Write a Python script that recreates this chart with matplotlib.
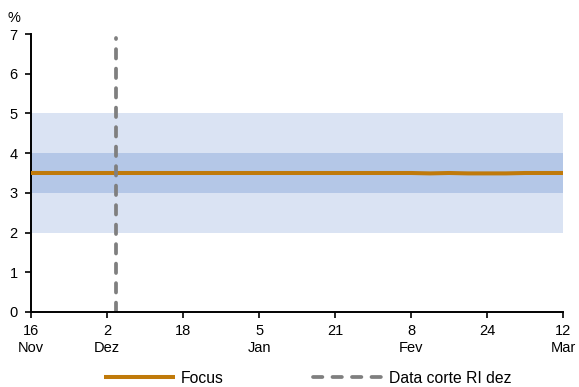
import matplotlib
matplotlib.use("Agg")
import matplotlib.pyplot as plt

plt.rcParams['font.family'] = ['Liberation Sans', 'DejaVu Sans']

# Data
tick_pos = [0, 16, 32, 48, 64, 80, 96, 112]
tick_labels = ["16\nNov", "2\nDez", "18", "5\nJan", "21", "8\nFev", "24", "12\nMar"]
focus_x = [0, 8, 16, 24, 32, 40, 48, 56, 64, 72, 80, 84, 88, 92, 96, 100, 104, 108, 112]
focus_y = [3.50, 3.50, 3.50, 3.50, 3.50, 3.50, 3.50, 3.50, 3.50, 3.50, 3.50, 3.49, 3.50, 3.49, 3.49, 3.49, 3.50, 3.50, 3.50]
band_outer = (2.0, 5.0)
band_inner = (3.0, 4.0)
cutoff_x = 18
cutoff_top = 6.9

fig = plt.figure(figsize=(5.79, 3.87), dpi=100)
ax = fig.add_axes([0.0535, 0.194, 0.919, 0.718])

ax.fill_between([tick_pos[0], tick_pos[-1]], band_outer[0], band_outer[1], color="#DAE3F3", lw=0, zorder=1)
ax.fill_between([tick_pos[0], tick_pos[-1]], band_inner[0], band_inner[1], color="#B4C7E7", lw=0, zorder=2)
ax.plot(focus_x, focus_y, color="#C07A0A", lw=2.9, zorder=4, label="Focus", solid_capstyle="butt")
ax.plot([cutoff_x, cutoff_x], [0, cutoff_top], color="#7F7F7F", lw=2.7, ls=(0, (2.5, 2.7)),
        dash_capstyle="round", zorder=5, label="Data corte RI dez")

ax.set_xlim(tick_pos[0], tick_pos[-1])
ax.set_ylim(0, 7)
ax.set_xticks(tick_pos)
ax.set_xticklabels(tick_labels, fontsize=10.5, linespacing=1.2)
ax.set_yticks(range(0, 8))
ax.tick_params(axis='both', direction='out', length=4, width=1.2, labelsize=10.5)
ax.tick_params(axis='x', pad=5)
ax.tick_params(axis='y', pad=5.5)
for s in ["top", "right"]:
    ax.spines[s].set_visible(False)
for s in ["left", "bottom"]:
    ax.spines[s].set_linewidth(1.4)
ax.spines["bottom"].set_zorder(6)

fig.text(0.013, 0.943, "%", fontsize=10.5, ha="left", va="baseline")

leg = fig.legend(loc="lower center", bbox_to_anchor=(0.532, -0.033), ncol=2, frameon=False,
                 fontsize=11.3, handlelength=4.5, columnspacing=5.7, handletextpad=0.35)

fig.savefig("out.png", dpi=100)
